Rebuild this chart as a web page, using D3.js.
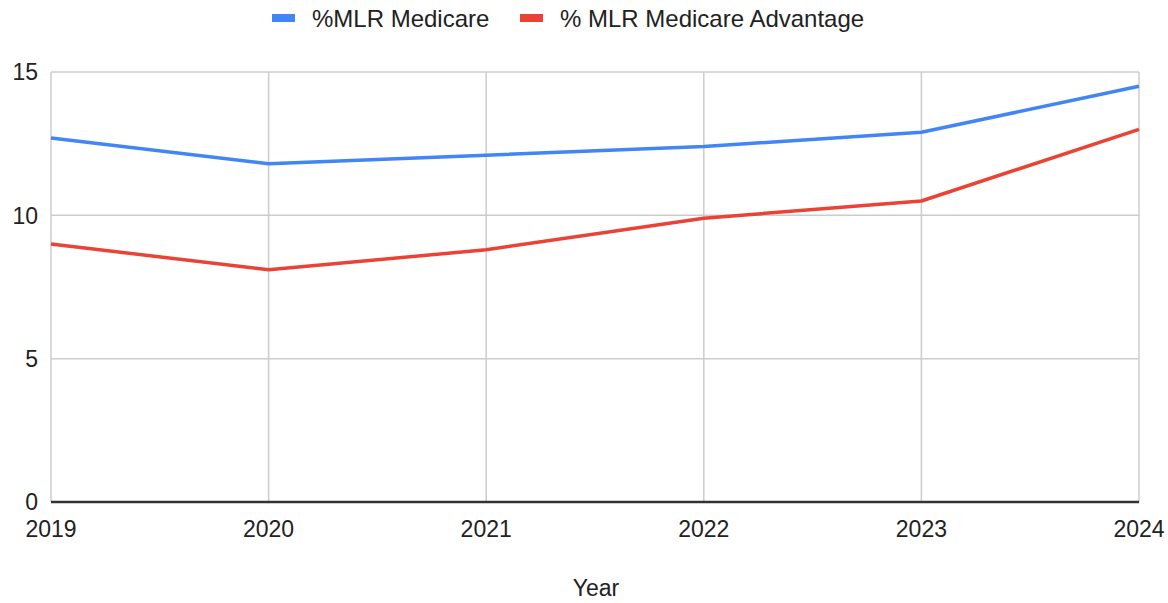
<!DOCTYPE html>
<html>
<meta charset="utf-8">
<script src="https://d3js.org/d3.v7.min.js"></script>
<style>
  body { margin: 0; background: #fff; }
  text { font-family: Arial, "Liberation Sans", sans-serif; fill: #222; }
</style>
<body>
<div id="vis"></div>
<script>
  // data
  var years = [2019, 2020, 2021, 2022, 2023, 2024];
  var mlrMedicare = [12.7, 11.8, 12.1, 12.4, 12.9, 14.5];
  var mlrAdvantage = [9.0, 8.1, 8.8, 9.9, 10.5, 13.0];
  var yTicks = [0, 5, 10, 15];
  var seriesNames = ["%MLR Medicare", "% MLR Medicare Advantage"];
  var seriesColors = ["#4285f4", "#ea4335"];

  var total_width = 1168, total_height = 603;
  var margin = {top: 72, right: 29, bottom: 101, left: 51},
      width = total_width - margin.left - margin.right,
      height = total_height - margin.top - margin.bottom;

  var root = d3.select("#vis").append("svg")
      .attr("width", total_width)
      .attr("height", total_height);

  var svg = root.append("g")
      .attr("transform", "translate(" + margin.left + "," + margin.top + ")");

  var x = d3.scaleLinear().domain([2019, 2024]).range([0, width]);
  var y = d3.scaleLinear().domain([0, 15]).range([height, 0]);

  // gridlines
  svg.append("g").selectAll("line.h")
    .data(yTicks.filter(function(d) { return d > 0; }))
    .enter().append("line")
      .attr("x1", 0).attr("x2", width)
      .attr("y1", function(d) { return y(d); })
      .attr("y2", function(d) { return y(d); })
      .attr("stroke", "#cccccc").attr("stroke-width", 1.5);

  svg.append("g").selectAll("line.v")
    .data(years)
    .enter().append("line")
      .attr("x1", function(d) { return x(d); })
      .attr("x2", function(d) { return x(d); })
      .attr("y1", 0).attr("y2", height)
      .attr("stroke", "#cccccc").attr("stroke-width", 1.5);

  // y labels
  svg.append("g").selectAll("text")
    .data(yTicks)
    .enter().append("text")
      .attr("x", -13)
      .attr("y", function(d) { return y(d); })
      .attr("dy", "0.36em")
      .attr("text-anchor", "end")
      .style("font-size", "23px")
      .text(function(d) { return d; });

  // x labels
  svg.append("g").selectAll("text")
    .data(years)
    .enter().append("text")
      .attr("x", function(d) { return x(d); })
      .attr("y", height + 35)
      .attr("text-anchor", "middle")
      .style("font-size", "23px")
      .text(function(d) { return d; });

  // baseline
  svg.append("line")
    .attr("x1", 0).attr("x2", width)
    .attr("y1", y(0)).attr("y2", y(0))
    .attr("stroke", "#333333").attr("stroke-width", 2.5);

  // lines
  var line = d3.line()
    .x(function(d, i) { return x(years[i]); })
    .y(function(d) { return y(d); });

  [mlrMedicare, mlrAdvantage].forEach(function(series, k) {
    svg.append("path")
      .datum(series)
      .attr("fill", "none")
      .attr("stroke", seriesColors[k])
      .attr("stroke-width", 3.5)
      .attr("stroke-linejoin", "round")
      .attr("d", line);
  });

  // axis title
  root.append("text")
    .attr("x", 596)
    .attr("y", 596)
    .attr("text-anchor", "middle")
    .style("font-size", "23px")
    .text("Year");

  // legend
  var legendX = [272, 520];
  var legend = root.append("g").selectAll("g")
    .data(seriesNames)
    .enter().append("g")
      .attr("transform", function(d, i) { return "translate(" + legendX[i] + ",0)"; });
  legend.append("rect")
    .attr("x", 0).attr("y", 14)
    .attr("width", 23).attr("height", 8)
    .attr("fill", function(d, i) { return seriesColors[i]; });
  legend.append("text")
    .attr("x", 40).attr("y", 27)
    .style("font-size", "24px")
    .text(function(d) { return d; });
</script>
</body>
</html>
